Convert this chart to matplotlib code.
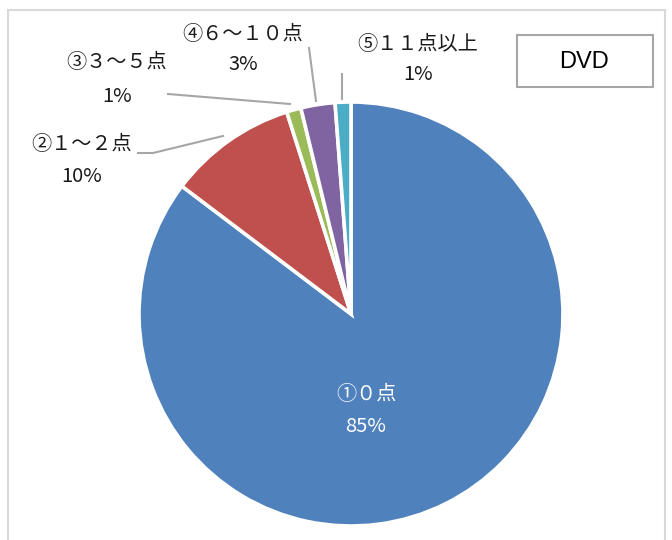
import matplotlib
matplotlib.use("Agg")
import matplotlib.pyplot as plt
from matplotlib.patches import Rectangle

plt.rcParams['font.family'] = ['Noto Sans CJK JP', 'DejaVu Sans']

categories = ['①０点', '②１～２点', '③３～５点', '④６～１０点', '⑤１１点以上']
values = [85.3, 9.8, 1.1, 2.6, 1.2]
pct_labels = ['85%', '10%', '1%', '3%', '1%']
colors = ['#4F81BD', '#C0504D', '#9BBB59', '#8064A2', '#4BACC6']
title = 'DVD'

W, H = 672, 540
fig = plt.figure(figsize=(W / 100, H / 100), dpi=100)
ax = fig.add_axes([0, 0, 1, 1])

def Y(y):
    return H - y

cx, cy, r = 351, Y(314), 212
ax.pie(values, colors=colors, startangle=90, counterclock=False,
       center=(cx, cy), radius=r, frame=True,
       wedgeprops=dict(edgecolor='white', linewidth=2.6))
ax.set_xlim(0, W)
ax.set_ylim(0, H)
ax.set_aspect('equal')
ax.axis('off')

# outer frame
ax.add_patch(Rectangle((7.5, Y(560)), 657, 550, fill=False,
                       edgecolor='#d9d9d9', linewidth=1.5, clip_on=True))

fs = 14.5
# label positions (text centers) in pixel coords
pos = [(366, 394, 427), (82, 144, 177), (117, 62, 96), (243, 35, 65), (418, 44, 75)]
for i, (x, y1, y2) in enumerate(pos):
    c = 'white' if i == 0 else '#1a1a1a'
    ax.text(x, Y(y1), categories[i], ha='center', va='center', fontsize=fs, color=c)
    ax.text(x, Y(y2), pct_labels[i], ha='center', va='center', fontsize=14.5, color=c)

lc = '#a6a6a6'
lw = 1.5
ax.plot([138, 153, 223], [Y(153), Y(153), Y(136)], color=lc, lw=lw)
ax.plot([168, 290], [Y(94), Y(104)], color=lc, lw=lw)
ax.plot([309, 316], [Y(48), Y(101)], color=lc, lw=lw)
ax.plot([342, 342], [Y(74), Y(99)], color=lc, lw=lw)

# title box
ax.add_patch(Rectangle((517, Y(87)), 136, 52, fill=False,
                       edgecolor='#a6a6a6', linewidth=1.5))
ax.text(584, Y(62), title, ha='center', va='center', fontsize=17,
        color='black', family=['Liberation Sans Narrow', 'Liberation Sans', 'DejaVu Sans'])

fig.savefig('out.png', dpi=100)
